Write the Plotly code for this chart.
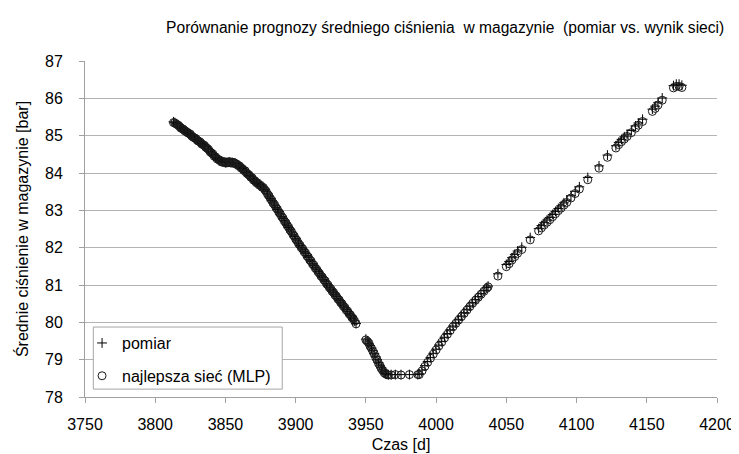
import plotly.graph_objects as go

# ---------------- data ----------------
# dense descending part, daily samples 3813..3943
days_a = list(range(3813, 3944))
pomiar_a = [
    85.37, 85.35, 85.32, 85.29, 85.25, 85.22, 85.20, 85.17, 85.15, 85.12,
    85.09, 85.06, 85.03, 85.00, 84.97, 84.94, 84.91, 84.88, 84.85, 84.82,
    84.79, 84.76, 84.73, 84.70, 84.66, 84.62, 84.58, 84.54, 84.50, 84.46,
    84.42, 84.39, 84.36, 84.33, 84.31, 84.30, 84.29, 84.28, 84.28, 84.29,
    84.29, 84.28, 84.28, 84.27, 84.26, 84.24, 84.21, 84.18, 84.15, 84.12,
    84.08, 84.05, 84.01, 83.97, 83.93, 83.90, 83.86, 83.82, 83.78, 83.75,
    83.72, 83.69, 83.66, 83.63, 83.60, 83.56, 83.50, 83.44, 83.38, 83.32,
    83.26, 83.20, 83.14, 83.08, 83.02, 82.96, 82.90, 82.84, 82.78, 82.72,
    82.66, 82.60, 82.54, 82.48, 82.42, 82.36, 82.30, 82.24, 82.18, 82.12,
    82.06, 82.01, 81.96, 81.90, 81.85, 81.79, 81.74, 81.68, 81.63, 81.57,
    81.52, 81.46, 81.41, 81.36, 81.30, 81.25, 81.20, 81.15, 81.10, 81.04,
    80.99, 80.94, 80.89, 80.84, 80.79, 80.74, 80.69, 80.64, 80.59, 80.54,
    80.49, 80.44, 80.39, 80.34, 80.29, 80.24, 80.19, 80.14, 80.09, 80.04,
    79.97,
]
mlp_a = [
    85.35, 85.34, 85.31, 85.29, 85.26, 85.21, 85.19, 85.17, 85.13, 85.11,
    85.08, 85.06, 85.04, 84.99, 84.96, 84.94, 84.92, 84.87, 84.85, 84.83,
    84.78, 84.76, 84.74, 84.69, 84.66, 84.63, 84.57, 84.54, 84.51, 84.45,
    84.43, 84.38, 84.36, 84.34, 84.30, 84.30, 84.30, 84.27, 84.29, 84.28,
    84.30, 84.27, 84.28, 84.28, 84.25, 84.24, 84.20, 84.19, 84.14, 84.12,
    84.07, 84.06, 84.00, 83.97, 83.94, 83.89, 83.87, 83.81, 83.79, 83.74,
    83.73, 83.68, 83.67, 83.62, 83.61, 83.55, 83.51, 83.43, 83.39, 83.31,
    83.27, 83.19, 83.15, 83.07, 83.03, 82.95, 82.91, 82.83, 82.79, 82.71,
    82.67, 82.59, 82.55, 82.47, 82.43, 82.35, 82.31, 82.23, 82.19, 82.11,
    82.07, 82.00, 81.97, 81.89, 81.86, 81.78, 81.75, 81.67, 81.64, 81.56,
    81.53, 81.45, 81.42, 81.35, 81.31, 81.24, 81.21, 81.14, 81.11, 81.03,
    81.00, 80.93, 80.90, 80.83, 80.80, 80.73, 80.70, 80.63, 80.60, 80.53,
    80.50, 80.43, 80.40, 80.33, 80.30, 80.23, 80.20, 80.13, 80.10, 80.03,
    79.96,
]

# bottom of the curve
days_b = [3950, 3951, 3952, 3953, 3954, 3955, 3956, 3957, 3958, 3959, 3960,
          3961, 3962, 3963, 3964, 3965, 3966, 3968, 3971, 3975, 3981, 3987]
pomiar_b = [79.55, 79.50, 79.44, 79.38, 79.31, 79.24, 79.16, 79.08, 79.00, 78.92, 78.85,
            78.78, 78.72, 78.67, 78.63, 78.61, 78.60, 78.60, 78.60, 78.60, 78.60, 78.60]
mlp_b = [79.53, 79.49, 79.45, 79.36, 79.30, 79.22, 79.15, 79.06, 78.99, 78.90, 78.84,
         78.76, 78.71, 78.65, 78.62, 78.60, 78.59, 78.59, 78.60, 78.59, 78.60, 78.60]

# ascending part, samples every 2 days 3988..4037
days_c = [3988, 3990, 3992, 3994, 3996, 3998, 4000, 4002, 4004, 4006, 4008, 4010, 4012,
          4014, 4016, 4018, 4020, 4022, 4024, 4026, 4028, 4030, 4032, 4034, 4036, 4037]
pomiar_c = [78.62, 78.72, 78.84, 78.95, 79.06, 79.17, 79.28, 79.39, 79.49, 79.60, 79.70, 79.80,
            79.90, 79.99, 80.08, 80.17, 80.26, 80.35, 80.44, 80.53, 80.61, 80.69, 80.77, 80.85,
            80.93, 80.97]
mlp_c = [78.60, 78.70, 78.82, 78.93, 79.04, 79.15, 79.26, 79.37, 79.47, 79.58, 79.68, 79.78,
         79.88, 79.97, 80.06, 80.15, 80.24, 80.33, 80.42, 80.51, 80.59, 80.67, 80.75, 80.83,
         80.91, 80.95]

# sparse ascending part
days_d = [4044, 4050, 4052, 4054, 4056, 4058, 4061, 4067, 4073, 4075, 4077, 4079, 4081, 4083,
          4085, 4087, 4089, 4091, 4093, 4096, 4099, 4102, 4108, 4116, 4122, 4128, 4130, 4132,
          4134, 4136, 4139, 4142, 4144, 4147, 4154, 4156, 4158, 4161, 4169, 4171, 4173, 4175]
pomiar_d = [81.30, 81.55, 81.63, 81.73, 81.82, 81.91, 82.01, 82.27, 82.51, 82.59, 82.67, 82.74,
            82.81, 82.89, 82.97, 83.05, 83.12, 83.20, 83.27, 83.39, 83.51, 83.63, 83.88, 84.19,
            84.48, 84.73, 84.82, 84.90, 84.97, 85.04, 85.14, 85.26, 85.34, 85.44, 85.71, 85.79,
            85.88, 86.01, 86.34, 86.38, 86.38, 86.35]
mlp_d = [81.24, 81.49, 81.57, 81.67, 81.76, 81.85, 81.95, 82.21, 82.45, 82.53, 82.61, 82.68,
         82.75, 82.83, 82.91, 82.99, 83.06, 83.14, 83.21, 83.33, 83.45, 83.57, 83.82, 84.13,
         84.42, 84.67, 84.76, 84.84, 84.91, 84.98, 85.08, 85.20, 85.28, 85.38, 85.65, 85.73,
         85.82, 85.95, 86.28, 86.32, 86.32, 86.29]

days = days_a + days_b + days_c + days_d
pomiar = pomiar_a + pomiar_b + pomiar_c + pomiar_d
mlp = mlp_a + mlp_b + mlp_c + mlp_d

x_ticks = [3750, 3800, 3850, 3900, 3950, 4000, 4050, 4100, 4150, 4200]
y_ticks = [78, 79, 80, 81, 82, 83, 84, 85, 86, 87]

title = "Porównanie prognozy średniego ciśnienia\u00a0 w magazynie\u00a0 (pomiar vs. wynik sieci)"
x_title = "Czas [d]"
y_title = "Średnie ciśnienie w magazynie [bar]"
series_names = ["pomiar", "najlepsza sieć (MLP)"]

FONT = "Liberation Sans, Arial, sans-serif"
W, H = 739, 454
L, R, T, B = 77, 18, 53, 60
PW, PH = W - L - R, H - T - B


def px_x(p):
    return (p - L) / PW


def px_y(p):
    return (H - B - p) / PH


# ---------------- figure ----------------
fig = go.Figure()
fig.add_trace(go.Scatter(
    x=days, y=pomiar, mode="markers", name=series_names[0], legendgroup="a",
    marker=dict(symbol="cross-thin-open", size=7, color="#000",
                line=dict(color="#000", width=1)),
))
fig.add_trace(go.Scatter(
    x=days, y=mlp, mode="markers", name=series_names[1], legendgroup="b",
    marker=dict(symbol="circle-open", size=8, color="#1a1a1a",
                line=dict(color="#1a1a1a", width=1)),
))

# legend frame (white box with grey border)
fig.add_shape(type="rect", xref="paper", yref="paper",
              x0=px_x(85.5), x1=px_x(278), y0=px_y(386), y1=px_y(323),
              fillcolor="white", line=dict(color="#a6a6a6", width=1), layer="above")

fig.update_layout(
    width=W, height=H, autosize=False,
    margin=dict(l=L, r=R, t=T, b=B),
    paper_bgcolor="white", plot_bgcolor="white",
    font=dict(family=FONT, size=16, color="#000"),
    title=dict(text=title, x=px_x(444), xref="paper", xanchor="center",
               y=1 - 20 / H, yref="container", yanchor="middle",
               font=dict(family=FONT, size=15.6, color="#000")),
    legend=dict(x=px_x(74), y=px_y(322), xanchor="left", yanchor="top",
                bgcolor="rgba(0,0,0,0)", borderwidth=0,
                font=dict(family=FONT, size=16, color="#000"),
                tracegroupgap=9),
    showlegend=True,
)
fig.update_xaxes(
    range=[3750, 4200], tickvals=x_ticks, showgrid=False, zeroline=False,
    showline=True, linecolor="#a0a0a0", linewidth=1,
    ticks="outside", ticklen=5, tickcolor="#a0a0a0", ticklabelstandoff=8,
    tickfont=dict(family=FONT, size=16, color="#000"),
    title=dict(text=x_title, font=dict(family=FONT, size=16, color="#000"), standoff=6),
)
fig.update_yaxes(
    range=[78, 87], tickvals=y_ticks, showgrid=True, gridcolor="#b4b4b4", gridwidth=1,
    zeroline=False, showline=True, linecolor="#a0a0a0", linewidth=1,
    ticks="outside", ticklen=5, tickcolor="#a0a0a0", ticklabelstandoff=13,
    tickfont=dict(family=FONT, size=16, color="#000"),
    title=dict(text=y_title, font=dict(family=FONT, size=16, color="#000"), standoff=12),
)

fig.write_html("out.html")
